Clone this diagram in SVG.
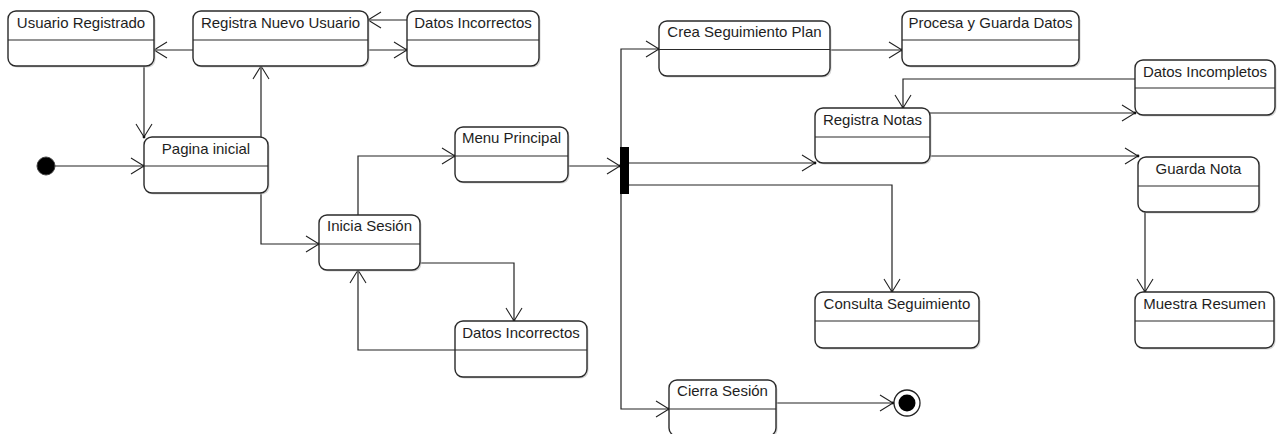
<svg xmlns="http://www.w3.org/2000/svg" width="1286" height="434" viewBox="0 0 1286 434">
  <style>
    .shadow { fill: #c4c4c4; opacity: 0.7; }
    .box { fill: #ffffff; stroke: #2a2a2a; stroke-width: 1.4; }
    .div { stroke: #2a2a2a; stroke-width: 1.2; }
    .lbl { font-family: "Liberation Sans", Arial, sans-serif; font-size: 15px; fill: #1e1e1e; text-anchor: middle; }
    .edge { fill: none; stroke: #222222; stroke-width: 1.2; marker-end: url(#open); }
  </style>
  <defs>
    <marker id="open" viewBox="-15 -10 17 20" refX="0" refY="0" markerWidth="17" markerHeight="20" markerUnits="userSpaceOnUse" orient="auto">
      <path d="M-13,-8 L0,0 L-13,8" fill="none" stroke="#222222" stroke-width="1.1"/>
      <circle cx="0" cy="0" r="1.4" fill="#111111"/>
    </marker>
  </defs>

  <rect width="1286" height="434" fill="#ffffff"/>

  <!-- connectors -->
  <g id="connectors">
    <path class="edge" d="M55,166 L144,166"/>
    <path class="edge" d="M144,66 L144,137"/>
    <path class="edge" d="M261,137 L261,66"/>
    <path class="edge" d="M193,50 L154,50"/>
    <path class="edge" d="M368,50 L407,50"/>
    <path class="edge" d="M407,20 L368,20"/>
    <path class="edge" d="M261,193 L261,244 L319,244"/>
    <path class="edge" d="M358,215 L358,156 L455,156"/>
    <path class="edge" d="M420,263 L514,263 L514,321"/>
    <path class="edge" d="M455,350 L358,350 L358,270"/>
    <path class="edge" d="M568,166 L620,166"/>
    <path class="edge" d="M621,147 L621,49 L659,49"/>
    <path class="edge" d="M621,194 L621,409 L669,409"/>
    <path class="edge" d="M629,163 L815,163"/>
    <path class="edge" d="M629,185 L892,185 L892,292"/>
    <path class="edge" d="M830,50 L902,50"/>
    <path class="edge" d="M1135,79 L903,79 L903,108"/>
    <path class="edge" d="M930,113 L1135,113"/>
    <path class="edge" d="M930,156 L1138,156"/>
    <path class="edge" d="M1145,212 L1145,292"/>
    <path class="edge" d="M776,403 L893,403"/>
  </g>

  <!-- initial pseudo-state -->
  <g id="inicio">
    <circle cx="46" cy="166" r="9" fill="#000000" stroke="#444444" stroke-width="1"/>
  </g>

  <!-- fork bar -->
  <g id="fork">
    <rect x="620" y="147" width="9" height="47" fill="#000000"/>
  </g>

  <!-- final pseudo-state -->
  <g id="fin">
    <circle cx="907" cy="403" r="13" fill="#ffffff" stroke="#222222" stroke-width="1.3"/>
    <circle cx="907" cy="403" r="8.5" fill="#000000"/>
  </g>

  <g id="usuario-registrado">
    <rect class="shadow" x="9.5" y="12.5" width="146" height="55" rx="8"/>
    <rect class="box" x="8" y="11" width="146" height="55" rx="8"/>
    <line class="div" x1="8" y1="40" x2="154" y2="40"/>
    <text class="lbl" x="81" y="27.5">Usuario Registrado</text>
  </g>

  <g id="registra-nuevo-usuario">
    <rect class="shadow" x="194.5" y="12.5" width="175" height="55" rx="8"/>
    <rect class="box" x="193" y="11" width="175" height="55" rx="8"/>
    <line class="div" x1="193" y1="40" x2="368" y2="40"/>
    <text class="lbl" x="280.5" y="27.5">Registra Nuevo Usuario</text>
  </g>

  <g id="datos-incorrectos-registro">
    <rect class="shadow" x="408.5" y="12.5" width="132" height="55" rx="8"/>
    <rect class="box" x="407" y="11" width="132" height="55" rx="8"/>
    <line class="div" x1="407" y1="40" x2="539" y2="40"/>
    <text class="lbl" x="473" y="27.5">Datos Incorrectos</text>
  </g>

  <g id="pagina-inicial">
    <rect class="shadow" x="145.5" y="138.5" width="124" height="56" rx="8"/>
    <rect class="box" x="144" y="137" width="124" height="56" rx="8"/>
    <line class="div" x1="144" y1="166" x2="268" y2="166"/>
    <text class="lbl" x="206" y="153.5">Pagina inicial</text>
  </g>

  <g id="inicia-sesion">
    <rect class="shadow" x="320.5" y="216.5" width="101" height="55" rx="8"/>
    <rect class="box" x="319" y="215" width="101" height="55" rx="8"/>
    <line class="div" x1="319" y1="244" x2="420" y2="244"/>
    <text class="lbl" x="369.5" y="231">Inicia Sesión</text>
  </g>

  <g id="menu-principal">
    <rect class="shadow" x="456.5" y="128.5" width="113" height="55" rx="8"/>
    <rect class="box" x="455" y="127" width="113" height="55" rx="8"/>
    <line class="div" x1="455" y1="156" x2="568" y2="156"/>
    <text class="lbl" x="511.5" y="143">Menu Principal</text>
  </g>

  <g id="datos-incorrectos-sesion">
    <rect class="shadow" x="456.5" y="322.5" width="132" height="56" rx="8"/>
    <rect class="box" x="455" y="321" width="132" height="56" rx="8"/>
    <line class="div" x1="455" y1="350" x2="587" y2="350"/>
    <text class="lbl" x="521" y="337.5">Datos Incorrectos</text>
  </g>

  <g id="crea-seguimiento-plan">
    <rect class="shadow" x="660.5" y="22.5" width="171" height="55" rx="8"/>
    <rect class="box" x="659" y="21" width="171" height="55" rx="8"/>
    <line class="div" x1="659" y1="49.5" x2="830" y2="49.5"/>
    <text class="lbl" x="744.5" y="37">Crea Seguimiento Plan</text>
  </g>

  <g id="procesa-guarda-datos">
    <rect class="shadow" x="903.5" y="12.5" width="177" height="55" rx="8"/>
    <rect class="box" x="902" y="11" width="177" height="55" rx="8"/>
    <line class="div" x1="902" y1="40" x2="1079" y2="40"/>
    <text class="lbl" x="990.5" y="27.5">Procesa y Guarda Datos</text>
  </g>

  <g id="datos-incompletos">
    <rect class="shadow" x="1136.5" y="61.5" width="140" height="55" rx="8"/>
    <rect class="box" x="1135" y="60" width="140" height="55" rx="8"/>
    <line class="div" x1="1135" y1="88" x2="1275" y2="88"/>
    <text class="lbl" x="1205" y="76.5">Datos Incompletos</text>
  </g>

  <g id="registra-notas">
    <rect class="shadow" x="816.5" y="109.5" width="115" height="55" rx="8"/>
    <rect class="box" x="815" y="108" width="115" height="55" rx="8"/>
    <line class="div" x1="815" y1="137" x2="930" y2="137"/>
    <text class="lbl" x="872.5" y="124.5">Registra Notas</text>
  </g>

  <g id="guarda-nota">
    <rect class="shadow" x="1139.5" y="158.5" width="121" height="55" rx="8"/>
    <rect class="box" x="1138" y="157" width="121" height="55" rx="8"/>
    <line class="div" x1="1138" y1="186" x2="1259" y2="186"/>
    <text class="lbl" x="1198.5" y="173.5">Guarda Nota</text>
  </g>

  <g id="consulta-seguimiento">
    <rect class="shadow" x="816.5" y="293.5" width="164" height="56" rx="8"/>
    <rect class="box" x="815" y="292" width="164" height="56" rx="8"/>
    <line class="div" x1="815" y1="321" x2="979" y2="321"/>
    <text class="lbl" x="897" y="308.5">Consulta Seguimiento</text>
  </g>

  <g id="muestra-resumen">
    <rect class="shadow" x="1136.5" y="293.5" width="139" height="56" rx="8"/>
    <rect class="box" x="1135" y="292" width="139" height="56" rx="8"/>
    <line class="div" x1="1135" y1="321" x2="1274" y2="321"/>
    <text class="lbl" x="1204.5" y="308.5">Muestra Resumen</text>
  </g>

  <g id="cierra-sesion">
    <rect class="shadow" x="670.5" y="381.5" width="107" height="56" rx="8"/>
    <rect class="box" x="669" y="380" width="107" height="56" rx="8"/>
    <line class="div" x1="669" y1="409" x2="776" y2="409"/>
    <text class="lbl" x="722.5" y="396">Cierra Sesión</text>
  </g>
</svg>
